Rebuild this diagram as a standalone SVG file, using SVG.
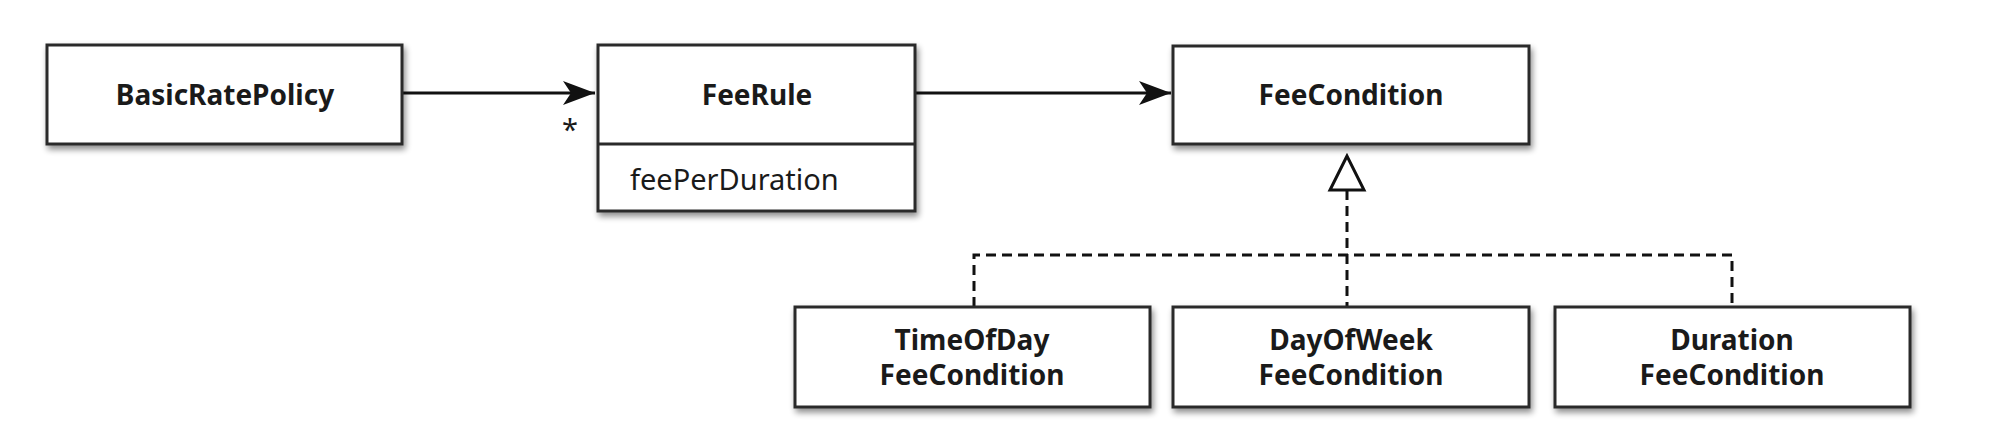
<svg xmlns="http://www.w3.org/2000/svg" width="2000" height="424" viewBox="0 0 2000 424">
<style>
.box{fill:#fff;stroke:#2a2a2a;stroke-width:3;filter:url(#sh)}
.t{font-family:"Noto Sans","Open Sans",sans-serif;font-weight:bold;font-size:28px;fill:#1a1a1a;text-anchor:middle}
.r{font-family:"Noto Sans","Open Sans",sans-serif;font-size:29px;fill:#1a1a1a}
.ln{stroke:#111;stroke-width:3;fill:none}
.dl{stroke:#111;stroke-width:3;fill:none;stroke-dasharray:10 6}
</style>
<defs>
<filter id="sh" x="-5%" y="-10%" width="115%" height="130%">
<feGaussianBlur in="SourceAlpha" stdDeviation="3"/>
<feOffset dx="2" dy="4" result="b"/>
<feComponentTransfer><feFuncA type="linear" slope="0.45"/></feComponentTransfer>
<feMerge><feMergeNode/><feMergeNode in="SourceGraphic"/></feMerge>
</filter>
<marker id="ah" viewBox="0 0 32 24" refX="32" refY="12" markerWidth="32" markerHeight="24" markerUnits="userSpaceOnUse" orient="auto">
<path d="M0,0 L32,12 L0,24 L8,12 Z" fill="#111"/>
</marker>
</defs>
<rect width="2000" height="424" fill="#fff"/>
<g id="connectors">
<line class="ln" x1="402" y1="93" x2="595" y2="93" marker-end="url(#ah)"/>
<text x="570" y="140" class="r" text-anchor="middle" font-size="24">*</text>
<line class="ln" x1="915" y1="93" x2="1171" y2="93" marker-end="url(#ah)"/>
<polygon points="1347,156 1330,190 1364,190" fill="#fff" stroke="#111" stroke-width="3"/>
<line class="dl" x1="1347" y1="190" x2="1347" y2="307"/>
<polyline class="dl" points="974,307 974,255 1732,255 1732,307"/>
</g>
<g id="BasicRatePolicy">
<rect class="box" x="47" y="45" width="355" height="99"/>
<text class="t" x="225" y="105">BasicRatePolicy</text>
</g>
<g id="FeeRule">
<rect class="box" x="598" y="45" width="317" height="166"/>
<line x1="598" y1="144" x2="915" y2="144" stroke="#2a2a2a" stroke-width="3"/>
<text class="t" x="757" y="105">FeeRule</text>
<text class="r" x="630" y="190">feePerDuration</text>
</g>
<g id="FeeCondition">
<rect class="box" x="1173" y="46" width="356" height="98"/>
<text class="t" x="1351" y="105">FeeCondition</text>
</g>
<g id="TimeOfDayFeeCondition">
<rect class="box" x="795" y="307" width="355" height="100"/>
<text class="t" x="972" y="350">TimeOfDay</text>
<text class="t" x="972" y="385">FeeCondition</text>
</g>
<g id="DayOfWeekFeeCondition">
<rect class="box" x="1173" y="307" width="356" height="100"/>
<text class="t" x="1351" y="350">DayOfWeek</text>
<text class="t" x="1351" y="385">FeeCondition</text>
</g>
<g id="DurationFeeCondition">
<rect class="box" x="1555" y="307" width="355" height="100"/>
<text class="t" x="1732" y="350">Duration</text>
<text class="t" x="1732" y="385">FeeCondition</text>
</g>
</svg>
